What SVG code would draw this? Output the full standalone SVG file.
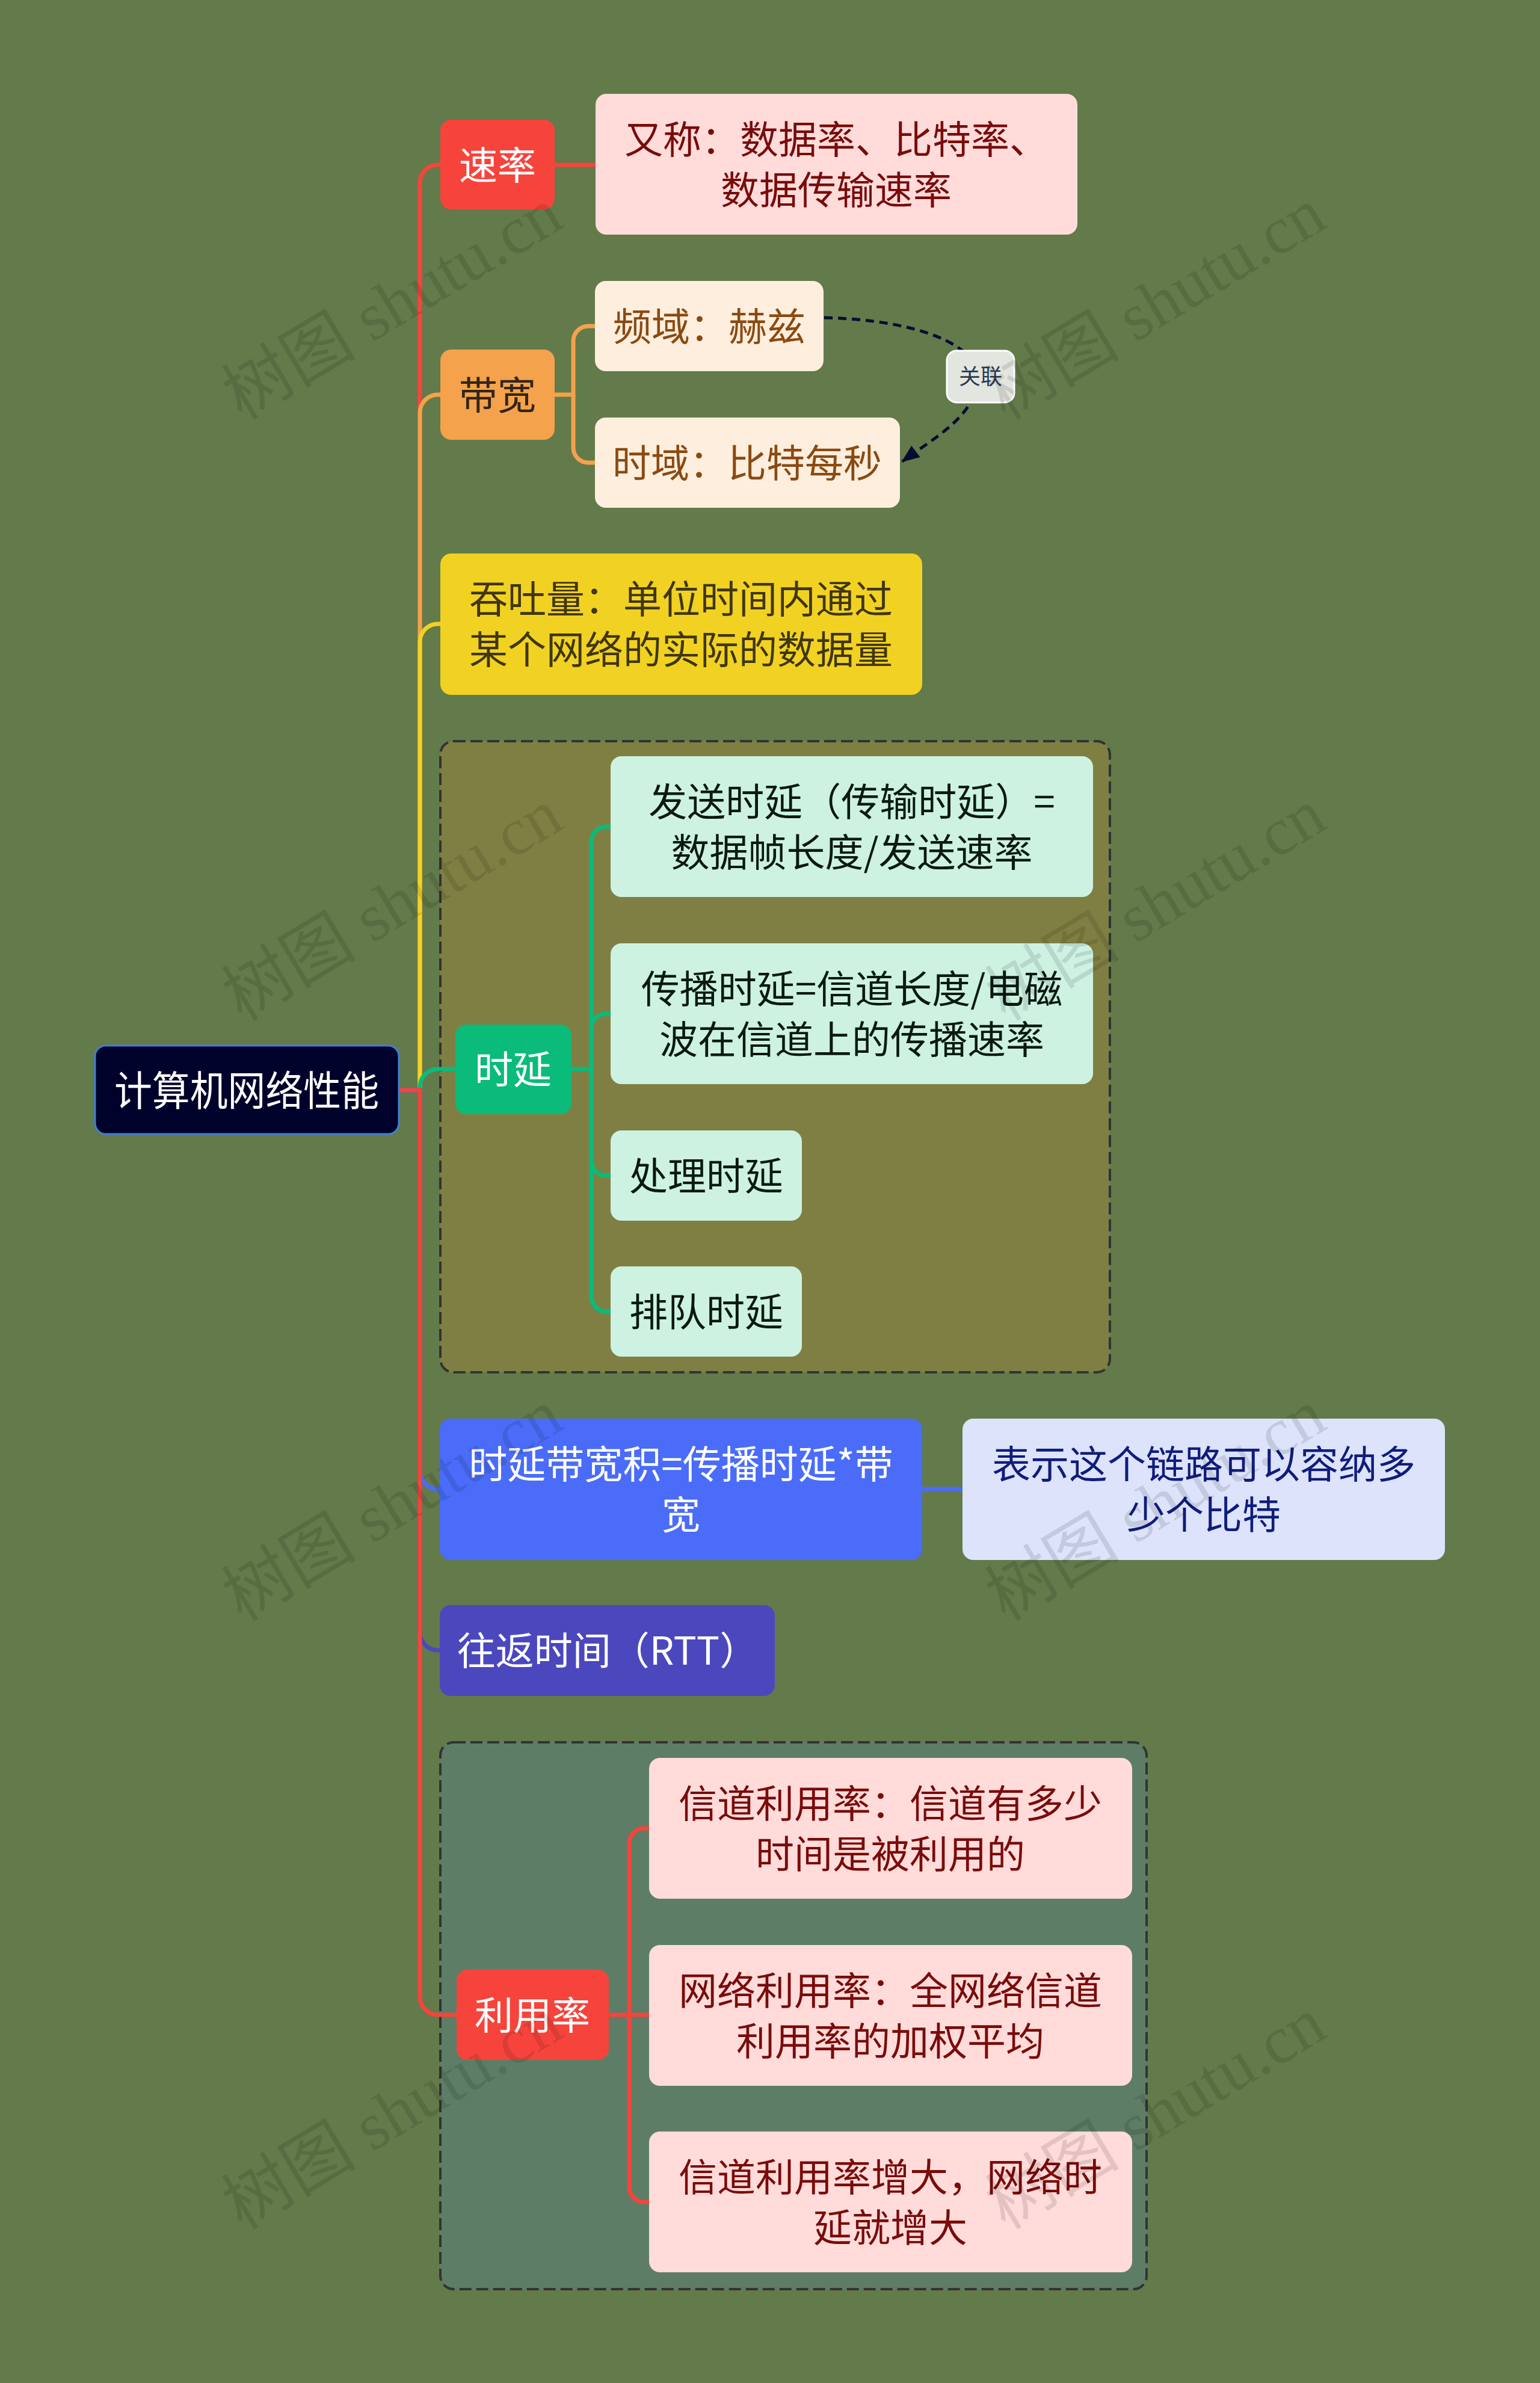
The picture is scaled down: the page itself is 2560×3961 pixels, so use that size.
<svg xmlns="http://www.w3.org/2000/svg" width="2560" height="3961" viewBox="0 0 2560 3961">
<defs>
<style>
.t{font-family:"Noto Sans CJK SC","Noto Sans",sans-serif;font-size:64px;text-anchor:middle}
.rt{font-family:"Noto Sans CJK SC","Noto Sans",sans-serif;font-size:68px;text-anchor:middle}
.lb{font-family:"Noto Sans CJK SC","Noto Sans",sans-serif;font-size:36px;text-anchor:middle}
.c{fill:none;stroke-width:7}
.grp{stroke:#333333;stroke-width:4;stroke-dasharray:20 8}
.wm{font-family:"Liberation Serif","Noto Sans CJK SC",serif;font-size:112px;fill:#000;fill-opacity:0.11;text-anchor:middle}
</style>
<marker id="arr" markerUnits="userSpaceOnUse" markerWidth="30" markerHeight="30" viewBox="0 0 30 30" refX="28" refY="15" orient="auto">
<path d="M0,3 L30,15 L0,27 Z" fill="#0A0B30"/>
</marker>
</defs>
<rect x="0" y="0" width="2560" height="3961" fill="#637A4B"/>

<g id="group-delay"><rect class="grp" x="732" y="1232" width="1113" height="1049" rx="22" fill="#807F43"/></g>
<g id="group-util"><rect class="grp" x="732" y="2896" width="1174" height="909" rx="22" fill="#5E7D67"/></g>

<g id="connectors">
<path class="c" stroke="#F6443C" d="M663,1812 H698 V304 A30,30 0 0 1 728,274 H732"/>
<path class="c" stroke="#F4A24B" d="M663,1812 H698 V686 A30,30 0 0 1 728,656 H732"/>
<path class="c" stroke="#F1D222" d="M663,1812 H698 V1067 A30,30 0 0 1 728,1037 H732"/>
<path class="c" stroke="#0ABB7A" d="M663,1812 H698 V1807 A30,30 0 0 1 728,1777 H757"/>
<path class="c" stroke="#4A6CF9" d="M663,1812 H698 V2445 A30,30 0 0 0 728,2475 H731"/>
<path class="c" stroke="#4B48BE" d="M663,1812 H698 V2713 A30,30 0 0 0 728,2743 H731"/>
<path class="c" stroke="#F6443C" d="M663,1812 H698 V3319 A30,30 0 0 0 728,3349 H759"/>

<path class="c" stroke="#F6443C" d="M922,274 H990"/>
<path class="c" stroke="#F4A24B" d="M922,656 H953 V567 A25,25 0 0 1 978,542 H989"/>
<path class="c" stroke="#F4A24B" d="M953,656 V744 A25,25 0 0 0 978,769 H989"/>
<path class="c" stroke="#0ABB7A" d="M950,1777 H983 V1399 A25,25 0 0 1 1008,1374 H1015"/>
<path class="c" stroke="#0ABB7A" d="M983,1777 V1710 A25,25 0 0 1 1008,1685 H1015"/>
<path class="c" stroke="#0ABB7A" d="M983,1777 V1929 A25,25 0 0 0 1008,1954 H1015"/>
<path class="c" stroke="#0ABB7A" d="M983,1777 V2155 A25,25 0 0 0 1008,2180 H1015"/>
<path class="c" stroke="#4A6CF9" d="M1533,2475 H1600"/>
<path class="c" stroke="#F6443C" d="M1012,3349 H1046 V3064 A25,25 0 0 1 1071,3039 H1079"/>
<path class="c" stroke="#F6443C" d="M1046,3349 H1079"/>
<path class="c" stroke="#F6443C" d="M1046,3349 V3635 A25,25 0 0 0 1071,3660 H1079"/>

<path id="relation" fill="none" stroke="#0A0B30" stroke-width="5" stroke-dasharray="14 9" d="M1370,528 C1530,532 1625,575 1625,626 C1625,690 1555,726 1500,767" marker-end="url(#arr)"/>
</g>

<g id="root">
<rect x="158" y="1738" width="505" height="147" rx="18" fill="#00022B" stroke="#3F7FD9" stroke-width="3"/>
<text class="rt" x="410" y="1838" fill="#FFFFFF" textLength="440" lengthAdjust="spacingAndGlyphs">计算机网络性能</text>
</g>

<g id="n-rate">
<rect x="732" y="199" width="190" height="149" rx="18" fill="#F6443C"/>
<text class="t" x="827" y="298" fill="#FFFFFF">速率</text>
</g>
<g id="n-rate-desc">
<rect x="990" y="156" width="801" height="234" rx="18" fill="#FFDCDA"/>
<text class="t" x="1390" y="255" fill="#7A0B0B">又称：数据率、比特率、</text>
<text class="t" x="1390" y="339" fill="#7A0B0B">数据传输速率</text>
</g>

<g id="n-bw">
<rect x="732" y="581" width="190" height="150" rx="18" fill="#F4A24B"/>
<text class="t" x="827" y="680" fill="#33261A">带宽</text>
</g>
<g id="n-freq">
<rect x="989" y="467" width="380" height="150" rx="18" fill="#FEEEDD"/>
<text class="t" x="1179" y="566" fill="#8A4A12">频域：赫兹</text>
</g>
<g id="n-time">
<rect x="989" y="694" width="507" height="150" rx="18" fill="#FEEEDD"/>
<text class="t" x="1242" y="793" fill="#8A4A12">时域：比特每秒</text>
</g>

<g id="n-throughput">
<rect x="732" y="920" width="801" height="235" rx="18" fill="#F1D222"/>
<text class="t" x="1132" y="1019" fill="#40360F">吞吐量：单位时间内通过</text>
<text class="t" x="1132" y="1103" fill="#40360F">某个网络的实际的数据量</text>
</g>

<g id="n-delay">
<rect x="757" y="1703" width="193" height="149" rx="18" fill="#0ABB7A"/>
<text class="t" x="853" y="1801" fill="#FFFFFF">时延</text>
</g>
<g id="n-send">
<rect x="1015" y="1257" width="802" height="234" rx="18" fill="#CDF2E2"/>
<text class="t" x="1416" y="1356" fill="#0A1A10">发送时延（传输时延）=</text>
<text class="t" x="1416" y="1440" fill="#0A1A10">数据帧长度/发送速率</text>
</g>
<g id="n-prop">
<rect x="1015" y="1568" width="802" height="234" rx="18" fill="#CDF2E2"/>
<text class="t" x="1416" y="1667" fill="#0A1A10">传播时延=信道长度/电磁</text>
<text class="t" x="1416" y="1751" fill="#0A1A10">波在信道上的传播速率</text>
</g>
<g id="n-proc">
<rect x="1015" y="1879" width="318" height="150" rx="18" fill="#CDF2E2"/>
<text class="t" x="1174" y="1978" fill="#0A1A10">处理时延</text>
</g>
<g id="n-queue">
<rect x="1015" y="2105" width="318" height="150" rx="18" fill="#CDF2E2"/>
<text class="t" x="1174" y="2204" fill="#0A1A10">排队时延</text>
</g>

<g id="n-bdp">
<rect x="731" y="2358" width="802" height="235" rx="18" fill="#4A6CF9"/>
<text class="t" x="1132" y="2457" fill="#FFFFFF">时延带宽积=传播时延*带</text>
<text class="t" x="1132" y="2541" fill="#FFFFFF">宽</text>
</g>
<g id="n-bdp-desc">
<rect x="1600" y="2358" width="802" height="235" rx="18" fill="#DCE3FA"/>
<text class="t" x="2001" y="2457" fill="#101C7C">表示这个链路可以容纳多</text>
<text class="t" x="2001" y="2541" fill="#101C7C">少个比特</text>
</g>

<g id="n-rtt">
<rect x="731" y="2668" width="557" height="151" rx="18" fill="#4B48BE"/>
<text class="t" x="1010" y="2767" fill="#FFFFFF">往返时间（RTT）</text>
</g>

<g id="n-util">
<rect x="759" y="3274" width="253" height="150" rx="18" fill="#F6443C"/>
<text class="t" x="885" y="3373" fill="#FFFFFF">利用率</text>
</g>
<g id="n-util1">
<rect x="1079" y="2922" width="803" height="234" rx="18" fill="#FFDCDA"/>
<text class="t" x="1480" y="3021" fill="#7A0B0B">信道利用率：信道有多少</text>
<text class="t" x="1480" y="3105" fill="#7A0B0B">时间是被利用的</text>
</g>
<g id="n-util2">
<rect x="1079" y="3233" width="803" height="234" rx="18" fill="#FFDCDA"/>
<text class="t" x="1480" y="3332" fill="#7A0B0B">网络利用率：全网络信道</text>
<text class="t" x="1480" y="3416" fill="#7A0B0B">利用率的加权平均</text>
</g>
<g id="n-util3">
<rect x="1079" y="3543" width="803" height="234" rx="18" fill="#FFDCDA"/>
<text class="t" x="1480" y="3642" fill="#7A0B0B">信道利用率增大，网络时</text>
<text class="t" x="1480" y="3726" fill="#7A0B0B">延就增大</text>
</g>

<g id="relation-label">
<rect x="1574" y="583" width="112" height="86" rx="16" fill="#E3E6DE" stroke="#FFFFFF" stroke-width="3"/>
<text class="lb" x="1630" y="639" fill="#2B3A55">关联</text>
</g>

<g id="watermarks">
<text class="wm" transform="translate(652,505) rotate(-31)" y="38">树图 shutu.cn</text>
<text class="wm" transform="translate(1921,505) rotate(-31)" y="38">树图 shutu.cn</text>
<text class="wm" transform="translate(652,1504) rotate(-31)" y="38">树图 shutu.cn</text>
<text class="wm" transform="translate(1921,1504) rotate(-31)" y="38">树图 shutu.cn</text>
<text class="wm" transform="translate(652,2502) rotate(-31)" y="38">树图 shutu.cn</text>
<text class="wm" transform="translate(1921,2502) rotate(-31)" y="38">树图 shutu.cn</text>
<text class="wm" transform="translate(652,3513) rotate(-31)" y="38">树图 shutu.cn</text>
<text class="wm" transform="translate(1921,3513) rotate(-31)" y="38">树图 shutu.cn</text>
</g>
</svg>
